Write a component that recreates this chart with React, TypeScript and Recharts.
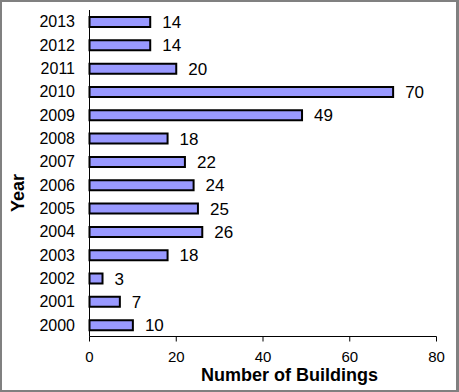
import { BarChart, Bar, XAxis, YAxis, LabelList, Label } from "recharts";

const years = ["2000", "2001", "2002", "2003", "2004", "2005", "2006", "2007", "2008", "2009", "2010", "2011", "2012", "2013"];
const buildings = [10, 7, 3, 18, 26, 25, 24, 22, 18, 49, 70, 20, 14, 14];
const xTicks = [0, 20, 40, 60, 80];

const data = years.map((year, i) => ({ year, buildings: buildings[i] }));

const font = "'Liberation Sans', Arial, sans-serif";

function YearTitle() {
  return (
    <text
      x={17.5}
      y={193}
      transform="rotate(-90, 17.5, 193)"
      textAnchor="middle"
      dominantBaseline="central"
      fontFamily={font}
      fontWeight="bold"
      fontSize={18}
      fill="#000"
    >
      Year
    </text>
  );
}

function XTitle() {
  return (
    <text
      x={289.5}
      y={380.5}
      textAnchor="middle"
      fontFamily={font}
      fontWeight="bold"
      fontSize={18}
      fill="#000"
    >
      Number of Buildings
    </text>
  );
}

export default function App() {
  return (
    <div style={{ position: "absolute", left: 0, top: 0, width: 459, height: 392, background: "#fff", fontFamily: font }}>
      <BarChart
        layout="vertical"
        width={459}
        height={392}
        data={data}
        margin={{ top: 10, right: 22.5, bottom: 0, left: 0 }}
        barSize={10}
      >
        <XAxis
          type="number"
          domain={[0, 80]}
          ticks={xTicks}
          interval={0}
          height={55.5}
          tickSize={5}
          tickMargin={10}
          axisLine={{ stroke: "#000" }}
          tickLine={{ stroke: "#000" }}
          tick={{ fill: "#000", fontSize: 15, fontFamily: font }}
        >
          <Label content={<XTitle />} />
        </XAxis>
        <YAxis
          type="category"
          dataKey="year"
          reversed
          width={89.5}
          interval={0}
          tickLine={false}
          tickSize={0}
          tickMargin={14.5}
          axisLine={{ stroke: "#000" }}
          tick={{ fill: "#000", fontSize: 16, fontFamily: font }}
        >
          <Label content={<YearTitle />} />
        </YAxis>
        <Bar dataKey="buildings" fill="#9999FF" stroke="#000" strokeWidth={2} isAnimationActive={false}>
          <LabelList dataKey="buildings" position="right" offset={12} fill="#000" fontSize={17} fontFamily={font} />
        </Bar>
      </BarChart>
      <div
        style={{
          position: "absolute",
          inset: 0,
          borderTop: "2px solid #808080",
          borderLeft: "2px solid #808080",
          borderBottom: "2px solid #808080",
          borderRight: "3px solid #808080",
          pointerEvents: "none",
        }}
      />
    </div>
  );
}
